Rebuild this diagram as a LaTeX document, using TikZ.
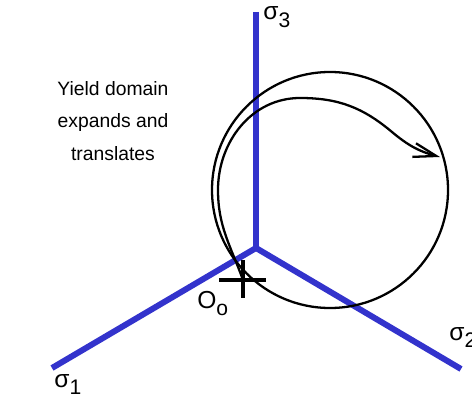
\documentclass[tikz,border=0pt]{standalone}
\usepackage{fontspec}
\setmainfont{Liberation Sans}
\usepackage{tikz}
\usetikzlibrary{arrows.meta, positioning}

\definecolor{axisblue}{RGB}{51,51,204}
\newcommand{\lowsub}[1]{\raisebox{-4.5pt}{\fontsize{12}{12}\selectfont #1}}

\begin{document}
\begin{tikzpicture}[
    x=0.02cm, y=0.02cm,
    axis/.style={line width=3.4pt, draw=axisblue},
    surface/.style={line width=1.3pt, draw=black},
    trail/.style={line width=1.3pt, draw=black, -{Straight Barb[length=13pt, width=8pt]}},
    marker/.style={line width=2pt, draw=black},
    axislabel/.style={anchor=base west, inner sep=0pt, font=\fontsize{14}{14}\selectfont},
    note/.style={align=center, inner sep=0pt, font=\fontsize{11}{18.4}\selectfont}
]
    \useasboundingbox (0,0) rectangle (472,399);

    \coordinate (O) at (256,151);
    \coordinate (s1end) at (52,31);
    \coordinate (s2end) at (461,30);
    \coordinate (s3end) at (256,387);
    \coordinate (C) at (330,209);
    \coordinate (O0) at (243,119);
    \coordinate (tip) at (440,242);

    \draw [axis] (s3end) -- (O);
    \draw [axis] (s1end) -- (O) -- (s2end);

    \node (s3) [axislabel] at (263,379) {σ\lowsub{3}};
    \node (s1) [axislabel] at (54,12) {σ\lowsub{1}};
    \node (s2) [axislabel] at (449,59) {σ\lowsub{2}};
    \node (origin) [axislabel] at (197,91) {O\lowsub{o}};

    \node (note) [note] at (113,278) {Yield domain\\expands and\\translates};

    \draw [surface] (C) circle [radius=118];
    \draw [trail] (O0) to[out=110, in=-90] (218,209) to[out=90, in=180] (300,301)
        to[out=0, in=140] (392,267) to[out=-40, in=165] (tip);

    \draw [marker] (243,139) -- (243,101);
    \draw [marker] (219,119) -- (266,119);
\end{tikzpicture}
\end{document}
